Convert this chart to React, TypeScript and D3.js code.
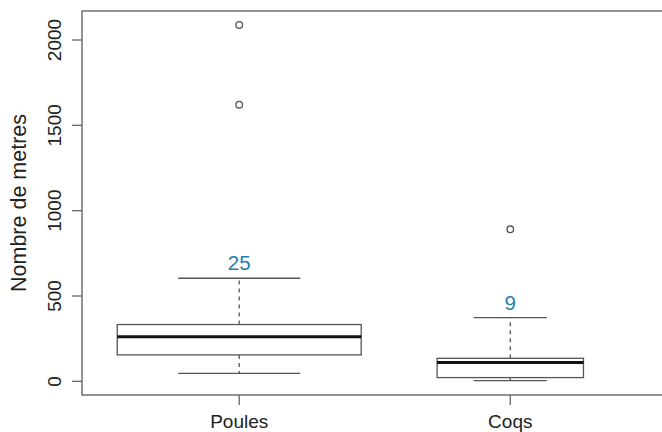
import React from "react";
import * as d3 from "d3";

const categories = ["Poules", "Coqs"];
const counts = [25, 9];
const lowerWhisker = [47, 4];
const q1 = [155, 22];
const median = [262, 111];
const q3 = [333, 135];
const upperWhisker = [604, 373];
const outliers = [[1621, 2088], [891]];
const yTicks = [0, 500, 1000, 1500, 2000];

const W = 662;
const H = 432;
const FONT = "'Liberation Sans', Arial, sans-serif";
const LINE = "#555";
const AXIS = "#666";
const LABEL_COL = "#1f80ad";

export default function App() {
  const x = d3.scaleLinear().domain([0.42, 2.58]).range([82, 667.5]);
  const y = d3.scaleLinear().domain([-80, 2170]).range([395, 11]);
  const maxN = d3.max(counts) as number;
  const unit = x(2) - x(1);

  return (
    <svg width={W} height={H} style={{ position: "absolute", left: 0, top: 0, background: "#fff" }}>
      {/* plot frame */}
      <rect x={x(0.42)} y={y(2170)} width={x(2.58) - x(0.42)} height={y(-80) - y(2170)} fill="none" stroke={AXIS} strokeWidth={1.4} />
      {/* y axis ticks */}
      {yTicks.map((t) => (
        <g key={t}>
          <line x1={x(0.42)} x2={x(0.42) - 10} y1={y(t)} y2={y(t)} stroke={AXIS} strokeWidth={1.3} />
          <text
            transform={`translate(${54},${y(t)}) rotate(-90)`}
            textAnchor="middle"
            dominantBaseline="central"
            fontFamily={FONT}
            fontSize={19}
            fill="#222"
          >
            {t}
          </text>
        </g>
      ))}
      <text
        transform={`translate(${19},${(y(-80) + y(2170)) / 2}) rotate(-90)`}
        textAnchor="middle"
        dominantBaseline="central"
        fontFamily={FONT}
        fontSize={21.5}
        fill="#222"
      >
        Nombre de metres
      </text>
      {categories.map((c, i) => {
        const cx = x(i + 1);
        const half = (0.45 * Math.sqrt(counts[i]) / Math.sqrt(maxN)) * unit;
        return (
          <g key={c}>
            {/* x tick and label */}
            <line x1={cx} x2={cx} y1={y(-80)} y2={y(-80) + 10} stroke={AXIS} strokeWidth={1.3} />
            <text x={cx} y={428} textAnchor="middle" fontFamily={FONT} fontSize={19} fill="#222">
              {c}
            </text>
            {/* whiskers */}
            <line x1={cx} x2={cx} y1={y(q3[i])} y2={y(upperWhisker[i])} stroke={LINE} strokeWidth={1.3} strokeDasharray="4,4" />
            <line x1={cx} x2={cx} y1={y(q1[i])} y2={y(lowerWhisker[i])} stroke={LINE} strokeWidth={1.3} strokeDasharray="4,4" />
            <line x1={cx - half / 2} x2={cx + half / 2} y1={y(upperWhisker[i])} y2={y(upperWhisker[i])} stroke={LINE} strokeWidth={1.3} />
            <line x1={cx - half / 2} x2={cx + half / 2} y1={y(lowerWhisker[i])} y2={y(lowerWhisker[i])} stroke={LINE} strokeWidth={1.3} />
            {/* box */}
            <rect x={cx - half} y={y(q3[i])} width={2 * half} height={y(q1[i]) - y(q3[i])} fill="#fff" stroke={LINE} strokeWidth={1.3} />
            <line x1={cx - half} x2={cx + half} y1={y(median[i])} y2={y(median[i])} stroke="#111" strokeWidth={3} />
            {/* outliers */}
            {outliers[i].map((o, j) => (
              <circle key={j} cx={cx} cy={y(o)} r={3.3} fill="none" stroke={LINE} strokeWidth={1.3} />
            ))}
            {/* count label */}
            <text x={cx} y={y(upperWhisker[i]) - 8} textAnchor="middle" fontFamily={FONT} fontSize={20.5} fill={LABEL_COL}>
              {counts[i]}
            </text>
          </g>
        );
      })}
    </svg>
  );
}
